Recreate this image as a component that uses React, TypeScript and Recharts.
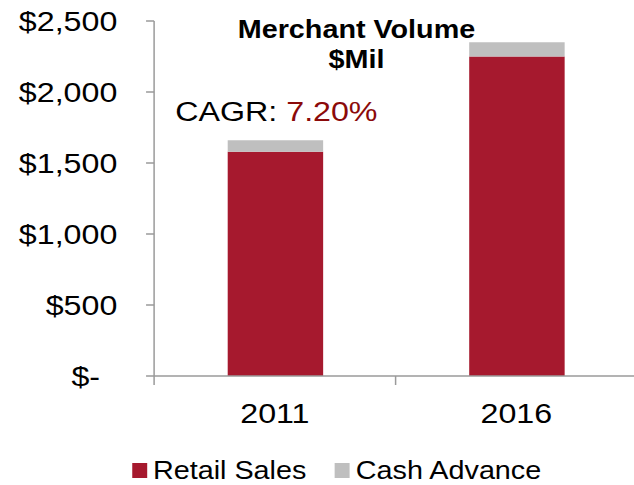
import { Bar, BarChart, Legend, XAxis, YAxis } from "recharts";

// values
const years = ["2011", "2016"];
const retailSales = [1580, 2250];
const cashAdvance = [80, 100];
const yTicks = [0, 500, 1000, 1500, 2000, 2500];
const seriesNames = ["Retail Sales", "Cash Advance"];

const data = years.map((year, i) => ({
    year,
    retail: retailSales[i],
    cash: cashAdvance[i],
}));

const FONT = "'Liberation Sans', Arial, sans-serif";
const AXIS = "#9a9a9a";
const RED = "#A6192E";
const GREY = "#BFBFBF";
// the reference image is stretched sideways, so the whole chart is too
const STRETCH = 1.15;

const money = (v: number) => (v === 0 ? "$-" : "$" + v.toLocaleString("en-US"));

const YTick = ({ x, y, payload }: any) => (
    <text
        x={payload.value === 0 ? x - 15 : x}
        y={y}
        dy="0.355em"
        textAnchor="end"
        fontSize={28}
        fill="#000"
        fontFamily={FONT}
    >
        {money(payload.value)}
    </text>
);

const XTick = ({ x, y, payload, index }: any) => {
    const off = payload.offset ?? 0;
    return (
        <g>
            <line x1={x - off} x2={x - off} y1={y} y2={y + 9} stroke={AXIS} strokeWidth={1.3} />
            {index === years.length - 1 && (
                <line x1={x + off} x2={x + off} y1={y} y2={y + 9} stroke={AXIS} strokeWidth={1.3} />
            )}
            <text x={x} y={y + 27} dy="0.71em" textAnchor="middle" fontSize={28} fill="#000" fontFamily={FONT}>
                {payload.value}
            </text>
        </g>
    );
};

const LegendBox = ({ payload }: any) => {
    const items = [...(payload || [])].sort(
        (a: any, b: any) => seriesNames.indexOf(a.value) - seriesNames.indexOf(b.value)
    );
    return (
        <div style={{ display: "flex", fontFamily: FONT, fontSize: 25, lineHeight: "28px", color: "#000" }}>
            {items.map((p: any, i: number) => (
                <div key={p.value} style={{ display: "flex", alignItems: "flex-start", marginLeft: i ? 25 : 0 }}>
                    <div style={{ width: 12.5, height: 15, marginTop: 7, marginRight: 5.5, background: p.color }} />
                    <span>{p.value}</span>
                </div>
            ))}
        </div>
    );
};

export default function App() {
    return (
        <div style={{ position: "absolute", left: 0, top: 0, width: 634, height: 485, overflow: "hidden", background: "#fff" }}>
            <div style={{ width: 556, transform: `scaleX(${STRETCH})`, transformOrigin: "0 0" }}>
                <BarChart
                    width={556}
                    height={485}
                    data={data}
                    margin={{ top: 21, right: 2, left: 0, bottom: 49 }}
                    style={{ fontFamily: FONT }}
                >
                    <XAxis
                        dataKey="year"
                        height={60}
                        tickSize={0}
                        tickMargin={0}
                        tickLine={false}
                        axisLine={{ stroke: AXIS, strokeWidth: 1.5 }}
                        tick={<XTick />}
                        interval={0}
                    />
                    <YAxis
                        width={134}
                        domain={[0, 2500]}
                        ticks={yTicks}
                        interval={0}
                        tickSize={7}
                        tickMargin={25}
                        axisLine={{ stroke: AXIS, strokeWidth: 1.3 }}
                        tickLine={{ stroke: AXIS, strokeWidth: 1.5 }}
                        tick={<YTick />}
                    />
                    <Legend
                        layout="horizontal"
                        verticalAlign="middle"
                        align="center"
                        content={<LegendBox />}
                        wrapperStyle={{ position: "absolute", left: 115, top: 456, width: "auto" }}
                    />
                    <Bar dataKey="retail" name={seriesNames[0]} stackId="a" fill={RED} barSize={83} isAnimationActive={false} />
                    <Bar dataKey="cash" name={seriesNames[1]} stackId="a" fill={GREY} barSize={83} isAnimationActive={false} />
                    <text x={310} y={38.5} textAnchor="middle" fontSize={25} fontWeight="bold" fill="#000" fontFamily={FONT}>
                        Merchant Volume
                    </text>
                    <text x={310} y={68.5} textAnchor="middle" fontSize={25} fontWeight="bold" fill="#000" fontFamily={FONT}>
                        $Mil
                    </text>
                    <text x={152.5} y={121} fontSize={28} fill="#000" fontFamily={FONT}>
                        CAGR: <tspan fill="#8B0A0A">7.20%</tspan>
                    </text>
                </BarChart>
            </div>
        </div>
    );
}
